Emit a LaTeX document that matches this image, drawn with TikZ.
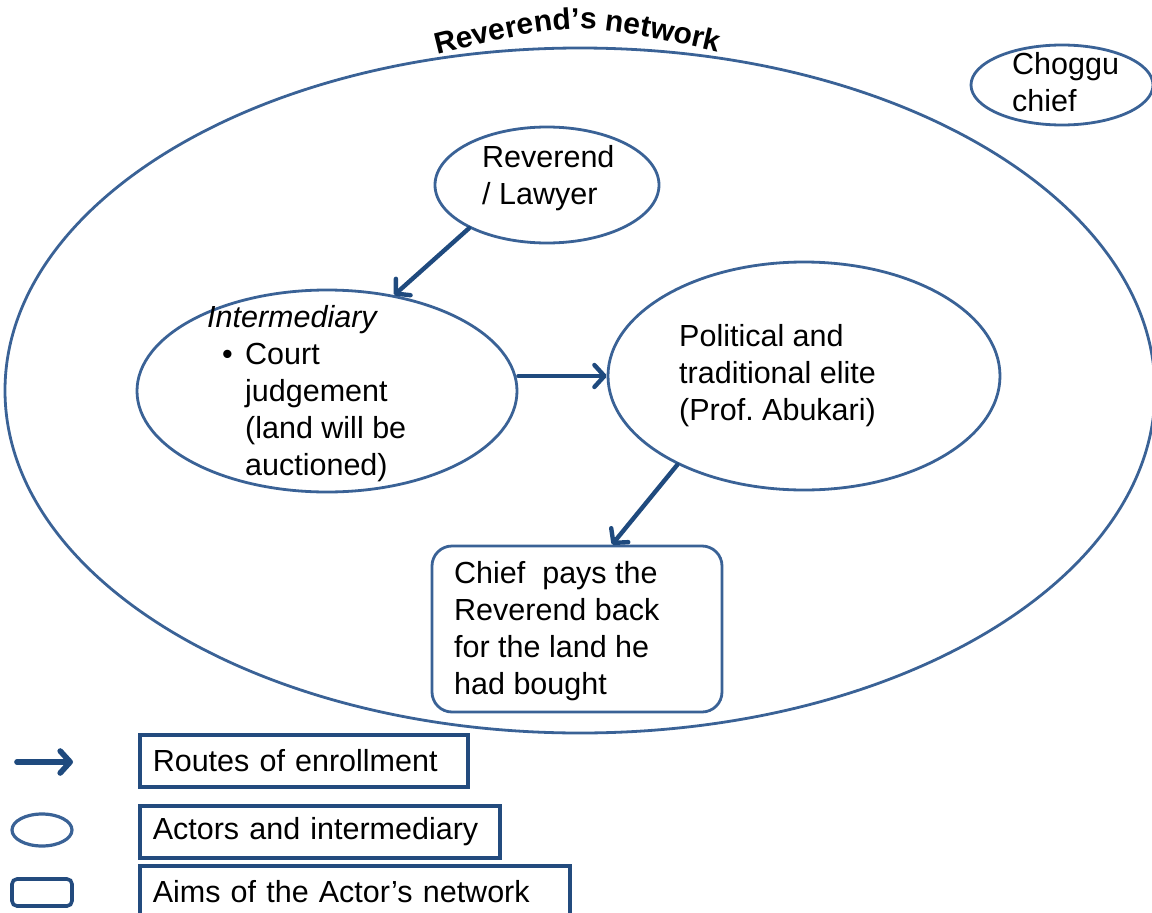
\documentclass[tikz,border=0pt]{standalone}
\usepackage{fontspec}
\setmainfont{Liberation Sans}
\usetikzlibrary{arrows.meta,decorations.text,shapes.geometric,calc}
\definecolor{ringblue}{HTML}{3A6296}
\definecolor{arrowblue}{HTML}{1F4A7E}
\definecolor{keyblue}{HTML}{234B7E}
\frenchspacing
\begin{document}
\begin{tikzpicture}[x=1pt,y=-1pt,
  actor/.style={draw=ringblue, line width=2.8pt, ellipse, inner sep=0pt},
  aimbox/.style={draw=ringblue, line width=2.8pt, rectangle, rounded corners=20pt, inner sep=0pt},
  lbl/.style={font=\fontsize{30.5}{37}\selectfont, align=left, inner sep=0pt, anchor=west},
  route/.style={draw=arrowblue, line width=4.4pt, line cap=round,
    -{Straight Barb[length=10pt,width=22pt,line cap=round,line join=round]}},
  keybox/.style={draw=keyblue, line width=3.6pt, rectangle, anchor=west, align=left,
    inner xsep=13pt, inner ysep=0pt, minimum height=52pt,
    font=\fontsize{30.5}{37}\selectfont}
]
\useasboundingbox (0,0) rectangle (1152,913);
\clip (0,0) rectangle (1152,913);

% the network boundary
\node[actor, minimum width=1150pt, minimum height=685pt] (net) at (580,390.5) {};
\path[decorate, decoration={text along path, text align=center,
  text={|\fontsize{30}{36}\selectfont\bfseries|Reverend’s network}}]
  (425,58) .. controls (578,20) .. (730,55);

% actors
\node[actor, minimum width=224pt, minimum height=116pt] (rev) at (547,185) {};
\node[lbl] (revtxt) at (482,178) {Reverend\\/ Lawyer};

\node[actor, minimum width=380pt, minimum height=202pt] (inter) at (327,391) {};
\node[lbl] (intertxt) at (207,394) {\textit{Intermediary}\\
  \hspace*{15pt}\makebox[23pt][l]{•}Court\\
  \hspace*{38pt}judgement\\
  \hspace*{38pt}(land will be\\
  \hspace*{38pt}auctioned)};

\node[actor, minimum width=392pt, minimum height=228pt] (pol) at (804,376) {};
\node[lbl] (poltxt) at (679,376) {Political and\\traditional elite\\(Prof. Abukari)};

\node[actor, minimum width=182pt, minimum height=80pt] (chog) at (1062,85) {};
\node[lbl] (chogtxt) at (1012,82) {Choggu\\chief};

% aim
\node[aimbox, minimum width=290pt, minimum height=166pt] (chief) at (577,629) {};
\node[lbl] (chieftxt) at (454,631) {Chief\ \ pays the\\Reverend back\\for the land he\\had bought};

% routes of enrollment
\draw[route] (rev.209) -- (inter.55);
\draw[route] (inter.east |- pol.west) -- (pol.west);
\draw[route] (pol.215) -- ([xshift=35pt]chief.north);

% key
\coordinate (ka) at (17,762);
\coordinate (kb) at (73,762);
\draw[route, line width=5.6pt] (ka) -- (kb);
\node[draw=ringblue, line width=3.2pt, ellipse, inner sep=0pt,
  minimum width=60pt, minimum height=32pt] (kell) at (42,830) {};
\node[draw=keyblue, line width=3.6pt, rectangle, rounded corners=5pt, inner sep=0pt,
  minimum width=60pt, minimum height=27pt] (krect) at (42,892.5) {};

\node[keybox, text width=302pt] (k1) at (138,761) {Routes of enrollment};
\node[keybox, text width=334pt] (k2) at (138,832) {Actors and intermediary};
\node[keybox, text width=404pt] (k3) at (138,892) {Aims of the Actor’s network};
\end{tikzpicture}
\end{document}
